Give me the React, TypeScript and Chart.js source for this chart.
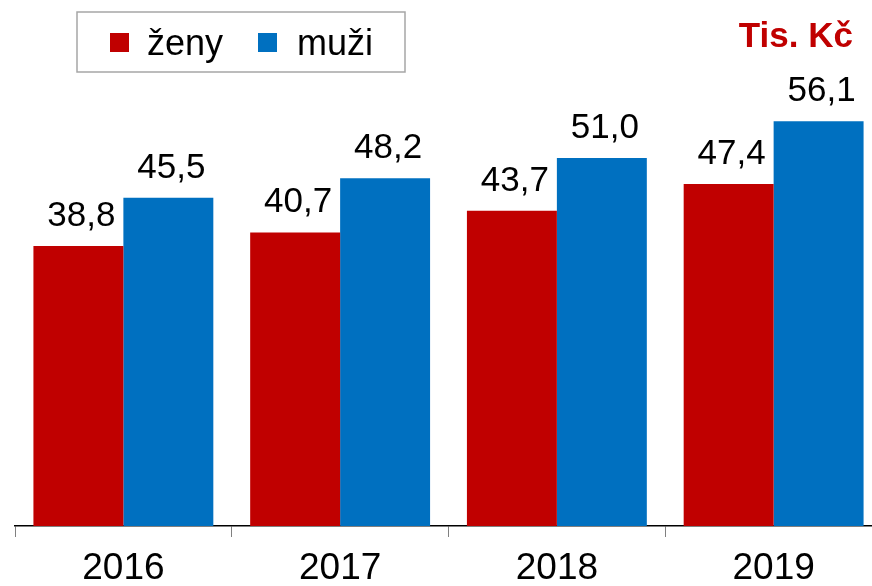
import React, { useEffect, useRef } from "react";
import { Chart, registerables } from "chart.js";

Chart.register(...registerables);

const categories = ["2016", "2017", "2018", "2019"];
const zenyValues = [38.8, 40.7, 43.7, 47.4];
const muziValues = [45.5, 48.2, 51.0, 56.1];
const seriesLabels = ["ženy", "muži"];
const unitLabel = "Tis. Kč";

const RED = "#C00000";
const BLUE = "#0070C0";
const FONT = "'Liberation Sans', Arial, sans-serif";

const fmt = (v: number) => v.toFixed(1).replace(".", ",");

const overlayPlugin = {
  id: "overlay",
  afterDatasetsDraw(chart: any) {
    const ctx = chart.ctx;
    ctx.save();
    // data labels
    ctx.font = `35px ${FONT}`;
    ctx.fillStyle = "#000";
    ctx.textAlign = "center";
    ctx.textBaseline = "alphabetic";
    chart.data.datasets.forEach((ds: any, di: number) => {
      const meta = chart.getDatasetMeta(di);
      meta.data.forEach((bar: any, i: number) => {
        ctx.fillText(fmt(ds.data[i]), bar.x + 3, bar.y - 20);
      });
    });
    // legend box
    ctx.strokeStyle = "#A6A6A6";
    ctx.lineWidth = 1.5;
    ctx.strokeRect(77, 12, 328, 60);
    const items = [
      { x: 110, tx: 147 },
      { x: 258, tx: 297 },
    ];
    ctx.font = `36px ${FONT}`;
    ctx.textAlign = "left";
    chart.data.datasets.forEach((ds: any, di: number) => {
      const it = items[di];
      ctx.fillStyle = ds.backgroundColor;
      ctx.fillRect(it.x, 33, 19, 19);
      ctx.fillStyle = "#000";
      ctx.fillText(ds.label, it.tx, 55);
    });
    // unit label
    ctx.font = `bold 35px ${FONT}`;
    ctx.fillStyle = RED;
    ctx.textAlign = "right";
    ctx.fillText(unitLabel, 853, 47);
    ctx.restore();
  },
};

export default function App() {
  const ref = useRef<HTMLCanvasElement>(null);
  useEffect(() => {
    if (!ref.current) return;
    const chart = new Chart(ref.current, {
      type: "bar",
      data: {
        labels: categories,
        datasets: [
          { label: seriesLabels[0], data: zenyValues, backgroundColor: RED },
          { label: seriesLabels[1], data: muziValues, backgroundColor: BLUE },
        ],
      },
      options: {
        animation: false,
        responsive: false,
        devicePixelRatio: 1,
        layout: { padding: { left: 15, right: 8, top: 21, bottom: 0 } },
        datasets: { bar: { categoryPercentage: 0.83, barPercentage: 1 } },
        plugins: { legend: { display: false }, tooltip: { enabled: false } },
        scales: {
          x: {
            grid: {
              display: true,
              drawOnChartArea: false,
              drawTicks: true,
              tickLength: 11,
              color: "#808080",
              offset: true,
            },
            border: { display: true, color: "#000", width: 1.5 },
            ticks: {
              color: "#000",
              font: { family: FONT, size: 37 },
              padding: 10,
            },
            afterFit: (scale: any) => {
              scale.height = 60;
            },
          },
          y: {
            display: false,
            min: 0,
            max: 70,
          },
        },
      },
      plugins: [overlayPlugin],
    });
    return () => chart.destroy();
  }, []);
  return (
    <div
      style={{
        position: "fixed",
        left: 0,
        top: 0,
        width: 872,
        height: 586,
        overflow: "hidden",
        background: "#fff",
      }}
    >
      <canvas ref={ref} width={890} height={586} style={{ display: "block" }} />
    </div>
  );
}
